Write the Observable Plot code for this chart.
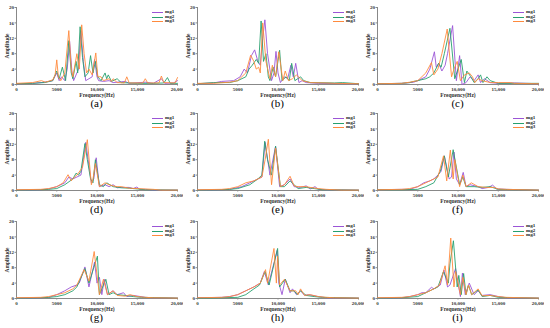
<!DOCTYPE html>
<html>
<head>
<meta charset="utf-8">
<script src="https://cdn.jsdelivr.net/npm/d3@7"></script>
<script src="https://cdn.jsdelivr.net/npm/@observablehq/plot@0.6"></script>
<style>
  html, body { margin: 0; padding: 0; background: #fff; }
  #root { position: relative; width: 550px; height: 328px; overflow: hidden; font-family: "Liberation Serif", "DejaVu Serif", serif; }
  .panel { position: absolute; width: 183px; height: 108px; }
  .panel svg { display: block; }
  .tag { position: absolute; left: 16px; width: 161px; top: 98px; text-align: center; font-size: 11px; line-height: 10px; color: #000; }
  .legend { position: absolute; left: 152px; top: 10px; font-size: 5px; font-weight: bold; line-height: 4.7px; color: #222; }
  .legend div { display: flex; align-items: center; height: 4.7px; }
  .legend span.sw { display: inline-block; width: 11px; height: 0; border-top: 1px solid; margin-right: 2px; }
  svg g[aria-label="x-axis label"] text, svg g[aria-label="y-axis label"] text { font-size: 5.5px; font-weight: bold; }
</style>
</head>
<body>
<div id="root"></div>
<script>
const seriesNames = ["mg1", "mg2", "mg3"];
const seriesColors = ["#9b55d6", "#27a06e", "#ff8a3d"];
const panelTags = ["(a)", "(b)", "(c)", "(d)", "(e)", "(f)", "(g)", "(h)", "(i)"];
const xTicks = [0, 5000, 10000, 15000, 20000];
const yTicks = [0, 4, 8, 12, 16, 20];

// [frequency (Hz), amplitude]
const a_mg1 = [[0,0.2],[2000,0.3],[3500,0.6],[4500,1],[5000,3],[5300,1],[5600,2],[6000,1],[6300,4],[6600,11.2],[6900,3],[7100,1],[7500,3],[7700,4],[8000,14],[8300,6],[8600,1],[9000,1.5],[9400,2],[9700,6.5],[10000,2],[10200,1],[10800,0.8],[11500,1],[12000,0.5],[13500,0.8],[14000,0.3],[16000,0.6],[17000,0.3],[18000,1.5],[18400,0.3],[19500,0.4],[20000,1]];
const a_mg2 = [[0,0.2],[2000,0.3],[3500,0.5],[4500,1],[5000,3.5],[5300,1.5],[5700,4.5],[6100,1],[6500,11.4],[6800,3],[7000,1.5],[7400,6],[7600,3],[7900,15],[8200,7],[8500,2],[8900,3],[9200,7.5],[9500,3],[9800,6],[10100,2],[10500,1],[11000,3],[11200,1.5],[11400,2.5],[11800,0.8],[12500,1.5],[13000,0.5],[15000,0.3],[17000,0.3],[18300,0.4],[18750,1.8],[19100,0.3],[20000,0.3]];
const a_mg3 = [[0,0.3],[2000,0.5],[3100,1],[3600,0.6],[4500,1.2],[4800,2.5],[5000,6.4],[5200,2],[5500,1],[6000,3],[6500,14],[6800,4],[7000,2],[7500,8],[7800,4],[8100,15.5],[8400,8],[8700,3],[9000,4],[9400,2.5],[9850,8.2],[10100,2],[10500,2],[10800,1],[11500,1.5],[11800,0.8],[12000,1.5],[12500,0.5],[13400,0.4],[13700,2],[14000,0.4],[15700,0.4],[16000,1.5],[16300,0.4],[17700,0.4],[18000,2.2],[18300,0.5],[19700,0.4],[20000,1.8]];

const b_mg1 = [[0,0.2],[2000,0.4],[3000,0.8],[4500,1],[5300,2],[5800,4],[6200,3],[6700,7.5],[7100,9],[7500,6],[7800,5],[8100,12],[8370,16.8],[8700,8],[9200,1],[9500,3],[9750,8.6],[10000,3],[10300,0.5],[10800,2],[11200,1.5],[11600,5],[11900,2],[12200,5.5],[12600,0.5],[13000,1],[13500,0.5],[15000,0.3],[20000,0.2]];
const b_mg2 = [[0,0.2],[2000,0.5],[4000,0.5],[5000,1],[6000,2],[6400,4],[6800,5],[7300,6.5],[7600,5.5],[7900,16.5],[8200,6],[8500,8],[8800,2],[9000,1],[9400,4.5],[9700,2],[10200,8.9],[10500,1],[11000,2],[11400,1],[11700,5.5],[12100,1],[12800,2],[13200,1],[14000,0.5],[17000,0.4],[18000,0.5],[20000,0.2]];
const b_mg3 = [[0,0.3],[2000,0.3],[4000,0.6],[5000,1],[5500,2],[6000,3],[6600,7.6],[7000,6],[7300,4],[7600,4.5],[7800,3],[8100,16],[8500,6],[9000,1.5],[9300,5],[9700,2],[10100,8.5],[10600,1],[10900,3.5],[11300,1],[11800,1.5],[12300,2.5],[13000,1],[14000,0.5],[16000,0.4],[17000,0.3],[20000,0.2]];

const c_mg1 = [[0,0.2],[3000,0.3],[4500,0.6],[5000,1],[6000,2],[6500,4],[7070,8.5],[7300,4.5],[7600,5.5],[8000,3.5],[8400,5],[8700,8],[9330,15.3],[9800,1],[10200,7.5],[10500,0],[11000,0.5],[11500,2],[12000,1],[12500,2.5],[12800,0.5],[13300,1.5],[14000,0.5],[15000,0.3],[17000,0.4],[20000,0.2]];
const c_mg2 = [[0,0.2],[3000,0.3],[4000,0.5],[4500,0.8],[5000,1],[6000,1.5],[6500,2],[7000,3],[7600,5.5],[7900,4.5],[8300,8],[9000,14.6],[9600,1.5],[10400,6.5],[10800,0.5],[11100,3.5],[11600,2],[12000,0.5],[12500,1.5],[12800,2.5],[13100,0.5],[13600,2],[14000,1],[15000,0.3],[17000,0.3],[20000,0.3]];
const c_mg3 = [[0,0.2],[3000,0.3],[4000,0.6],[5000,1],[6000,3],[6700,5.7],[7000,2.5],[7500,4],[8000,8],[8660,14.4],[9200,2],[9500,4],[9900,6],[10300,1],[10800,2.5],[11400,3],[11800,2],[12100,0.5],[12500,1.5],[13000,1],[14000,0.5],[15000,0.5],[16500,0.5],[17000,0.3],[20000,0.2]];

const d_mg1 = [[0,0.1],[3000,0.2],[4000,0.4],[5000,1],[6000,2],[6500,3.5],[7000,3],[7500,3.5],[8000,4],[8300,8],[8600,12.5],[8900,8],[9300,2],[9600,3],[9900,8.5],[10300,1],[11000,1.5],[11500,1],[12000,1.5],[12500,0.7],[13000,0.8],[14000,0.8],[14500,0.5],[14950,0.9],[15300,0.3],[16000,0.3],[17000,0.1],[20000,0.1]];
const d_mg2 = [[0,0.1],[3000,0.2],[4000,0.3],[5000,0.5],[6000,1.5],[7000,3],[7400,4.5],[7700,4],[8000,5],[8500,12.2],[8800,8],[9200,3],[9500,2],[9800,8],[10300,1.5],[10800,1],[11200,2],[12000,1],[13000,0.7],[14000,0.6],[15000,0.4],[16000,0.2],[20000,0.1]];
const d_mg3 = [[0,0.2],[3000,0.3],[4000,0.5],[5000,1],[5800,2],[6400,4.1],[6800,2.5],[7200,3.5],[7500,4],[8200,6],[8800,13.2],[9300,1.5],[9500,3],[9800,7],[10300,1],[11000,2],[11500,1.5],[12000,1.2],[12500,1],[13000,1],[14000,0.6],[15000,0.5],[16000,0.4],[17000,0.3],[18000,0.1],[20000,0.1]];

const e_mg1 = [[0,0.1],[3000,0.2],[4000,0.3],[5500,1],[6500,2],[7500,3],[8000,3.5],[8400,12.5],[9000,4],[9700,11.5],[10200,1],[10800,1.5],[11500,3],[12000,1],[12800,0.8],[13500,1.2],[14000,0.4],[14600,1],[15000,0.3],[16000,0.2],[20000,0.1]];
const e_mg2 = [[0,0.1],[3000,0.2],[4000,0.3],[5000,0.5],[6500,1.5],[7500,3],[8000,4],[8350,12.8],[8700,8],[9200,4],[9700,11.5],[10300,1],[10800,1],[11500,2.5],[12500,0.5],[13500,0.8],[14500,0.5],[15500,0.2],[20000,0.1]];
const e_mg3 = [[0,0.2],[3000,0.3],[4000,0.5],[5000,1],[6000,2],[7000,2.5],[8000,3.5],[8400,8],[8800,13.3],[9200,1.5],[9700,11],[10300,1],[10800,1.5],[11500,3.7],[12000,1.2],[12500,1],[13500,1],[14000,0.8],[15000,0.5],[16000,0.3],[18000,0.1],[20000,0.1]];

const f_mg1 = [[0,0.2],[3000,0.3],[4000,0.3],[5000,1],[5750,2],[6500,2.5],[7000,3],[7500,4],[7900,5],[8300,9],[8900,3],[9200,3.5],[9500,10],[9800,3],[10200,1.5],[10650,4.7],[11000,1],[11500,1.5],[12500,1],[13000,0.5],[13800,0.8],[14300,1.4],[14800,0.4],[16000,0.3],[20000,0.1]];
const f_mg2 = [[0,0.2],[3000,0.2],[5000,0.3],[6000,1],[7000,2],[7800,5],[8300,9],[8800,3.5],[9400,10.6],[10200,1.5],[10600,3.5],[11000,1],[12000,1],[13000,0.8],[14000,1],[15000,0.3],[20000,0.1]];
const f_mg3 = [[0,0.2],[3000,0.3],[4000,0.5],[5000,1],[6000,2],[7000,3],[7500,3.5],[8200,9],[8600,2.5],[9050,10.5],[9400,3],[9600,8],[10200,1],[10600,4],[11000,1],[11650,2],[12500,1],[13500,0.8],[14500,0.8],[15000,0.4],[16000,0.3],[20000,0.1]];

const g_mg1 = [[0,0.1],[3000,0.2],[4000,0.3],[5000,1],[6000,2],[6800,3],[7500,3.5],[7800,4],[8500,8.2],[9000,3],[9700,9.5],[10000,4],[10300,5.5],[10600,1],[10900,5],[11300,1],[12000,2],[12500,1],[13300,1.5],[13700,0.5],[14500,0.8],[16000,0.3],[17000,0.2],[20000,0.1]];
const g_mg2 = [[0,0.1],[3000,0.2],[4000,0.3],[5000,0.5],[6000,1],[7000,2],[7500,3],[8500,7.8],[9000,4],[10050,11],[10300,1],[11100,5],[11500,1],[12000,1.5],[12500,1],[13500,0.8],[14500,0.5],[15500,0.3],[20000,0.1]];
const g_mg3 = [[0,0.2],[3000,0.3],[4000,0.5],[5000,1],[6000,1.5],[7000,2.5],[7500,3.5],[8400,7.5],[9000,4.5],[9650,12.2],[10300,1],[10800,5],[11300,1],[12000,2],[12500,0.8],[13500,0.6],[14100,1],[15000,0.5],[16000,0.3],[17000,0.2],[20000,0.1]];

const h_mg1 = [[0,0.2],[3000,0.3],[4000,0.5],[5000,1],[6000,2],[7000,3],[7800,4],[8300,7],[8800,3.5],[9900,12.5],[10100,4],[10500,1],[10900,5],[11500,1.5],[11800,2.5],[12300,1],[12800,2],[13300,0.8],[13800,1],[15000,0.5],[16000,0.2],[20000,0.1]];
const h_mg2 = [[0,0.1],[3000,0.2],[5000,0.3],[6000,1],[7000,2.5],[7700,3.5],[8400,7],[8900,3.5],[9950,13],[10200,3],[10900,5],[11500,2],[12000,2],[12400,1],[12800,2],[13500,0.8],[14500,0.5],[15500,0.3],[20000,0.1]];
const h_mg3 = [[0,0.2],[3000,0.3],[4000,0.5],[5000,1],[6000,2],[7000,3],[7800,4],[8450,7.5],[8700,4],[9500,13],[9800,4],[9950,11],[10200,3.5],[10800,5],[11500,2],[12200,2],[12500,1],[12800,2.5],[13300,0.8],[14000,1],[15000,0.5],[16000,0.3],[17000,0.2],[20000,0.1]];

const i_mg1 = [[0,0.1],[3000,0.2],[4000,0.5],[5000,1],[5500,1.5],[6000,1.5],[6700,2.9],[7000,2.5],[7800,3.5],[8250,7.4],[8700,3],[9000,3.5],[9700,7.8],[10300,0.5],[10550,6.6],[10900,1],[11400,4],[12000,1],[12500,2],[13000,0.8],[14000,1],[15000,0.5],[16000,0.2],[20000,0.1]];
const i_mg2 = [[0,0.1],[3000,0.2],[5000,0.5],[6000,1.5],[7000,2.5],[7500,3],[8200,7],[8800,4],[9000,9],[9430,15],[9900,3],[10100,6],[10400,1],[10700,6.5],[11000,1],[11300,3.5],[11700,1],[12500,2.2],[13000,0.5],[14000,0.8],[15000,0.3],[20000,0.1]];
const i_mg3 = [[0,0.2],[3000,0.3],[4000,0.5],[5000,1],[6000,1.5],[7000,2.5],[7700,3.5],[8400,8.5],[8700,3.5],[9100,15.7],[9500,3],[9700,7],[10300,1],[10600,5.5],[11000,1],[11300,3.5],[11700,1],[12500,2.5],[13000,0.7],[14000,0.8],[15000,0.5],[16000,0.3],[20000,0.1]];

const panelSeries = [
  [a_mg1, a_mg2, a_mg3], [b_mg1, b_mg2, b_mg3], [c_mg1, c_mg2, c_mg3],
  [d_mg1, d_mg2, d_mg3], [e_mg1, e_mg2, e_mg3], [f_mg1, f_mg2, f_mg3],
  [g_mg1, g_mg2, g_mg3], [h_mg1, h_mg2, h_mg3], [i_mg1, i_mg2, i_mg3]
];

const colLeft = [0, 181, 361];
const rowTop = [0, 106, 214];
const fmt = d3.format(",");
const root = document.getElementById("root");

panelSeries.forEach((series, p) => {
  const rows = series.flatMap((arr, k) => arr.map(([f, a]) => ({f, a, s: seriesNames[k]})));
  const div = document.createElement("div");
  div.className = "panel";
  div.style.left = colLeft[p % 3] + "px";
  div.style.top = rowTop[Math.floor(p / 3)] + "px";
  const chart = Plot.plot({
    width: 183, height: 98,
    marginLeft: 16, marginRight: 6, marginTop: 7, marginBottom: 14,
    style: {fontFamily: '"Liberation Serif", "DejaVu Serif", serif', fontSize: "5px", fontWeight: "bold", color: "#333", background: "transparent"},
    x: {domain: [0, 20000]},
    y: {domain: [0, 20]},
    color: {domain: seriesNames, range: seriesColors},
    marks: [
      Plot.axisX({ticks: xTicks, tickFormat: d => d === 5000 || d === 0 ? String(d) : fmt(d), tickSize: 1.5, tickPadding: 1, label: "Frequency(Hz)", labelAnchor: "center", labelArrow: false, labelOffset: 12, stroke: "#888"}),
      Plot.axisY({ticks: yTicks, tickSize: 1.5, tickPadding: 1, label: "Amplitude", labelAnchor: "center", labelArrow: false, labelOffset: 11, stroke: "#888"}),
      Plot.ruleX([0], {stroke: "#888", strokeWidth: 1}),
      Plot.ruleY([0], {stroke: "#888", strokeWidth: 1}),
      Plot.line(rows, {x: "f", y: "a", z: "s", stroke: "s", strokeWidth: 0.9})
    ]
  });
  div.appendChild(chart);
  const legend = document.createElement("div");
  legend.className = "legend";
  seriesNames.forEach((n, k) => {
    const item = document.createElement("div");
    item.innerHTML = `<span class="sw" style="border-color:${seriesColors[k]}"></span>${n}`;
    legend.appendChild(item);
  });
  div.appendChild(legend);
  const tag = document.createElement("div");
  tag.className = "tag";
  tag.textContent = panelTags[p];
  div.appendChild(tag);
  root.appendChild(div);
});
</script>
</body>
</html>
